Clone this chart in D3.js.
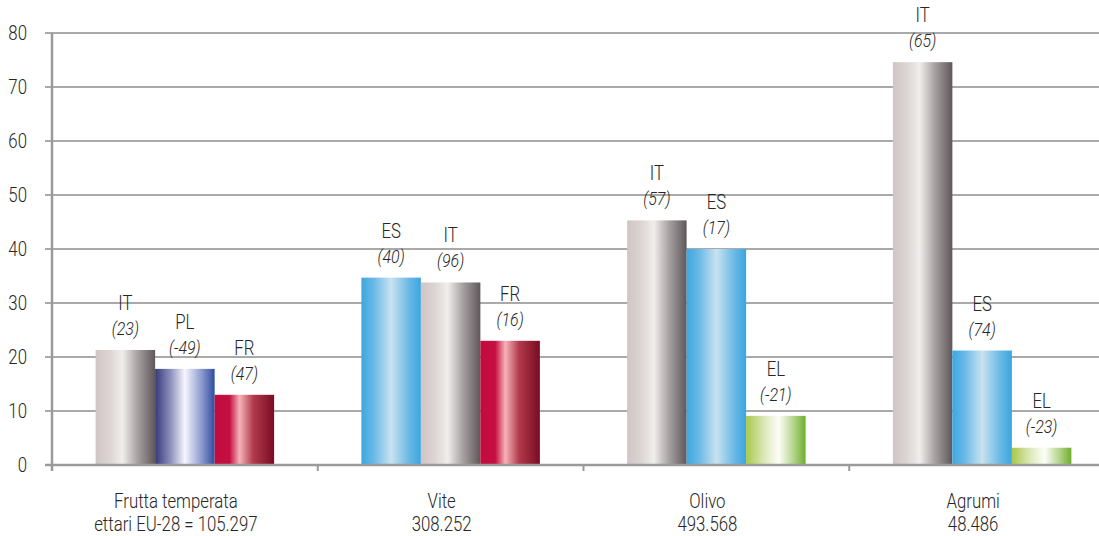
<!DOCTYPE html>
<html><head><meta charset="utf-8">
<script src="https://cdn.jsdelivr.net/npm/d3@7"></script>
<style>
html,body{margin:0;padding:0;background:#fff;}
svg{display:block;}
text{font-family:"Roboto","Liberation Sans",sans-serif;font-weight:300;fill:#262626;}
</style></head>
<body>
<svg id="chart" width="1099" height="536"></svg>
<script>
const categories = ["Frutta temperata","Vite","Olivo","Agrumi"];
const subtitles = ["ettari EU-28 = 105.297","308.252","493.568","48.486"];
const countries = [["IT","PL","FR"],["ES","IT","FR"],["IT","ES","EL"],["IT","ES","EL"]];
const values = [[21.3,17.8,13.0],[34.7,33.8,23.0],[45.3,40.0,9.1],[74.6,21.2,3.2]];
const changes = [["(23)","(-49)","(47)"],["(40)","(96)","(16)"],["(57)","(17)","(-21)"],["(65)","(74)","(-23)"]];
const yTicks = [0,10,20,30,40,50,60,70,80];

(function(){
const svg = d3.select("#chart");
const mLeft = 52, mRight = 1115, mTop = 33, mBottom = 465;
const SX = 0.84;
const labelShift = -9;

const x = d3.scaleBand().domain(categories).range([mLeft, mRight]).padding(0);
const y = d3.scaleLinear().domain([0, 80]).range([mBottom, mTop]);
const inner = d3.scaleBand().domain([0,1,2]).range([-89.25, 89.25]).padding(0);

function place(sel, fx, fy) {
  sel.attr("x", 0).attr("y", 0)
     .attr("transform", (d, i) => `translate(${fx(d, i)},${fy(d, i)}) scale(${SX},1)`);
  return sel;
}

const grads = {
  IT: [[0,"#d0c5c5"],[0.25,"#ddd6d4"],[0.45,"#f0eeec"],[0.7,"#a9a2a3"],[1,"#5f5759"]],
  PL: [[0,"#363a7a"],[0.25,"#8a8cba"],[0.5,"#f6f6fc"],[0.75,"#99a4d4"],[1,"#2e4ea0"]],
  FR: [[0,"#c20c40"],[0.25,"#c50f42"],[0.42,"#f6b4b8"],[0.65,"#b23a4c"],[1,"#7a0b22"]],
  ES: [[0,"#3ca8e0"],[0.2,"#68b8e6"],[0.5,"#c9e2f0"],[0.8,"#6ab9e6"],[1,"#3aa6df"]],
  EL: [[0,"#a8c848"],[0.3,"#dbe8b8"],[0.55,"#fdfef8"],[0.8,"#b3d48a"],[1,"#6eae2c"]]
};
const defs = svg.append("defs");
Object.entries(grads).forEach(([k, stops]) => {
  const g = defs.append("linearGradient").attr("id", "g" + k)
    .attr("x1", "0%").attr("x2", "100%").attr("y1", "0%").attr("y2", "0%");
  stops.forEach(s => g.append("stop").attr("offset", s[0]).attr("stop-color", s[1]));
});

svg.append("g").selectAll("line").data(yTicks.filter(d => d > 0)).join("line")
  .attr("x1", mLeft - 7).attr("x2", 1099)
  .attr("y1", d => y(d)).attr("y2", d => y(d))
  .attr("stroke", "#a9a9a9").attr("stroke-width", 2);

place(svg.append("g").selectAll("text").data(yTicks).join("text")
  .attr("text-anchor", "end").attr("font-size", 20)
  .text(d => d), () => 27, d => y(d) + 7);

categories.forEach((c, i) => {
  const cx = x(c) + x.bandwidth() / 2;
  const g = svg.append("g");
  const data = values[i].map((v, j) => ({v, j, country: countries[i][j], change: changes[i][j]}));
  g.selectAll("rect").data(data).join("rect")
    .attr("x", d => cx + inner(d.j))
    .attr("width", inner.bandwidth())
    .attr("y", d => y(d.v))
    .attr("height", d => y(0) - y(d.v))
    .attr("fill", d => "url(#g" + d.country + ")");
  place(g.selectAll("text.country").data(data).join("text").attr("class", "country")
    .attr("text-anchor", "middle").attr("font-size", 20)
    .text(d => d.country),
    d => cx + inner(d.j) + inner.bandwidth() / 2, d => y(d.v) - 40);
  place(g.selectAll("text.change").data(data).join("text").attr("class", "change")
    .attr("text-anchor", "middle").attr("font-size", 19).attr("font-style", "italic")
    .text(d => d.change),
    d => cx + inner(d.j) + inner.bandwidth() / 2, d => y(d.v) - 15);
});

svg.append("line").attr("x1", mLeft - 7).attr("x2", 1099).attr("y1", y(0)).attr("y2", y(0))
  .attr("stroke", "#9a9a9a").attr("stroke-width", 2.5);
svg.append("line").attr("x1", mLeft).attr("x2", mLeft).attr("y1", mTop).attr("y2", y(0) + 6)
  .attr("stroke", "#9a9a9a").attr("stroke-width", 2.5);
svg.append("g").selectAll("line").data(categories.slice(1)).join("line")
  .attr("x1", d => x(d)).attr("x2", d => x(d))
  .attr("y1", y(0)).attr("y2", y(0) + 6)
  .attr("stroke", "#9a9a9a").attr("stroke-width", 2);

place(svg.append("g").selectAll("text").data(categories).join("text")
  .attr("text-anchor", "middle").attr("font-size", 20).text(d => d),
  d => x(d) + x.bandwidth() / 2 + labelShift, () => 508);
place(svg.append("g").selectAll("text").data(subtitles).join("text")
  .attr("text-anchor", "middle").attr("font-size", 20).text(d => d),
  (d, i) => x(categories[i]) + x.bandwidth() / 2 + labelShift, () => 531);
})();
</script>
</body></html>
